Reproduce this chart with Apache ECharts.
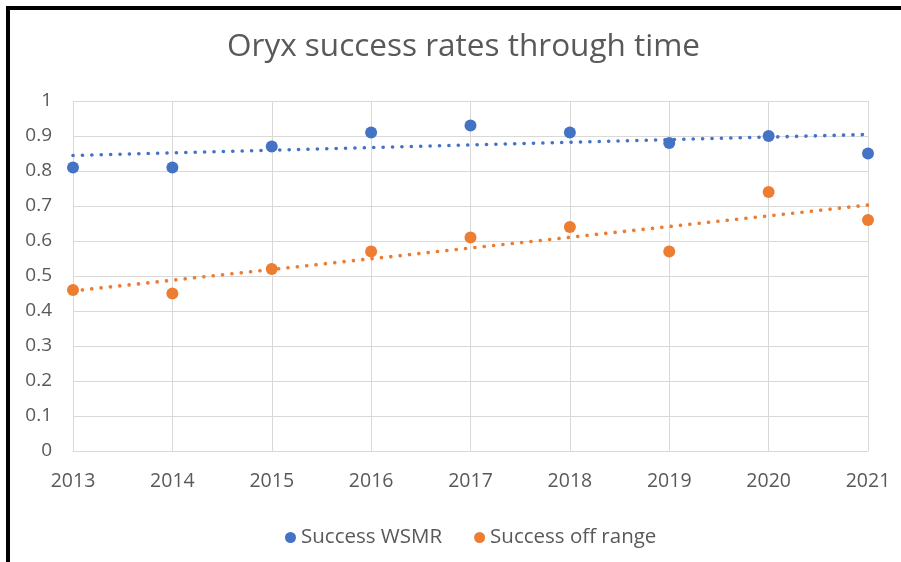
<!DOCTYPE html>
<html>
<head>
<meta charset="utf-8">
<script src="https://cdn.jsdelivr.net/npm/echarts@6/dist/echarts.min.js"></script>
<style>
html,body{margin:0;padding:0;background:#fff;}
#chart{width:901px;height:562px;}
</style>
</head>
<body>
<div id="chart"></div>
<script>
var years = [2013, 2014, 2015, 2016, 2017, 2018, 2019, 2020, 2021];
var successWSMR = [0.81, 0.81, 0.87, 0.91, 0.93, 0.91, 0.88, 0.90, 0.85];
var successOffRange = [0.46, 0.45, 0.52, 0.57, 0.61, 0.64, 0.57, 0.74, 0.66];
var seriesNames = ['Success WSMR', 'Success off range'];
var titleText = 'Oryx success rates through time';

function pairs(xs, ys) { return xs.map(function (x, i) { return [x, ys[i]]; }); }
// Linear trendline (least squares), like Excel's linear trendline
function trend(xs, ys) {
  var n = xs.length, sx = 0, sy = 0, sxx = 0, sxy = 0;
  for (var i = 0; i < n; i++) { sx += xs[i]; sy += ys[i]; sxx += xs[i] * xs[i]; sxy += xs[i] * ys[i]; }
  var b = (n * sxy - sx * sy) / (n * sxx - sx * sx);
  var a = (sy - b * sx) / n;
  var x0 = xs[0], x1 = xs[n - 1];
  return [[x0, a + b * x0], [x1, a + b * x1]];
}

var blue = '#4472C4', orange = '#ED7D31', txt = '#595959', gridC = '#d9d9d9';
var font = 'Open Sans';

var chart = echarts.init(document.getElementById('chart'), null, {renderer: 'canvas'});
chart.setOption({
  backgroundColor: '#fff',
  animation: false,
  title: {
    text: titleText, left: 222, top: 26,
    textStyle: {fontFamily: font, fontSize: 31.5, fontWeight: 'normal', color: txt}
  },
  legend: {
    data: seriesNames, left: 280, top: 522, icon: 'circle', itemWidth: 11, itemHeight: 11, itemGap: 32,
    textStyle: {fontFamily: font, fontSize: 20.5, color: txt}
  },
  grid: {left: 73, right: 33, top: 101, bottom: 111, containLabel: false},
  xAxis: {
    type: 'value', min: 2013, max: 2021, interval: 1,
    axisLine: {show: true, lineStyle: {color: gridC}},
    axisTick: {show: false},
    splitLine: {show: true, lineStyle: {color: gridC, width: 1}},
    axisLabel: {fontFamily: font, fontSize: 19.5, color: txt, margin: 20, formatter: function (v) { return String(v); }}
  },
  yAxis: {
    type: 'value', min: 0, max: 1, interval: 0.1,
    axisLine: {show: false}, axisTick: {show: false},
    splitLine: {show: true, lineStyle: {color: gridC, width: 1}},
    axisLabel: {fontFamily: font, fontSize: 19, color: txt, margin: 21, formatter: function (v) { return String(Math.round(v * 10) / 10); }}
  },
  graphic: [
    {type: 'line', shape: {x1: 8, y1: 8, x2: 901, y2: 8}, style: {stroke: '#000', lineWidth: 4}},
    {type: 'line', shape: {x1: 8, y1: 6, x2: 8, y2: 562}, style: {stroke: '#000', lineWidth: 4}}
  ],
  series: [
    {name: seriesNames[0] + ' trend', type: 'line', data: trend(years, successWSMR), symbol: 'none', silent: true,
      lineStyle: {color: blue, width: 3.6, type: [0.1, 9.3], cap: 'round'}, z: 1},
    {name: seriesNames[1] + ' trend', type: 'line', data: trend(years, successOffRange), symbol: 'none', silent: true,
      lineStyle: {color: orange, width: 3.6, type: [0.1, 9.3], cap: 'round'}, z: 1},
    {name: seriesNames[0], type: 'scatter', data: pairs(years, successWSMR), symbol: 'circle', symbolSize: 12,
      itemStyle: {color: blue, opacity: 1}, z: 3},
    {name: seriesNames[1], type: 'scatter', data: pairs(years, successOffRange), symbol: 'circle', symbolSize: 12,
      itemStyle: {color: orange, opacity: 1}, z: 3}
  ]
});
</script>
</body>
</html>
